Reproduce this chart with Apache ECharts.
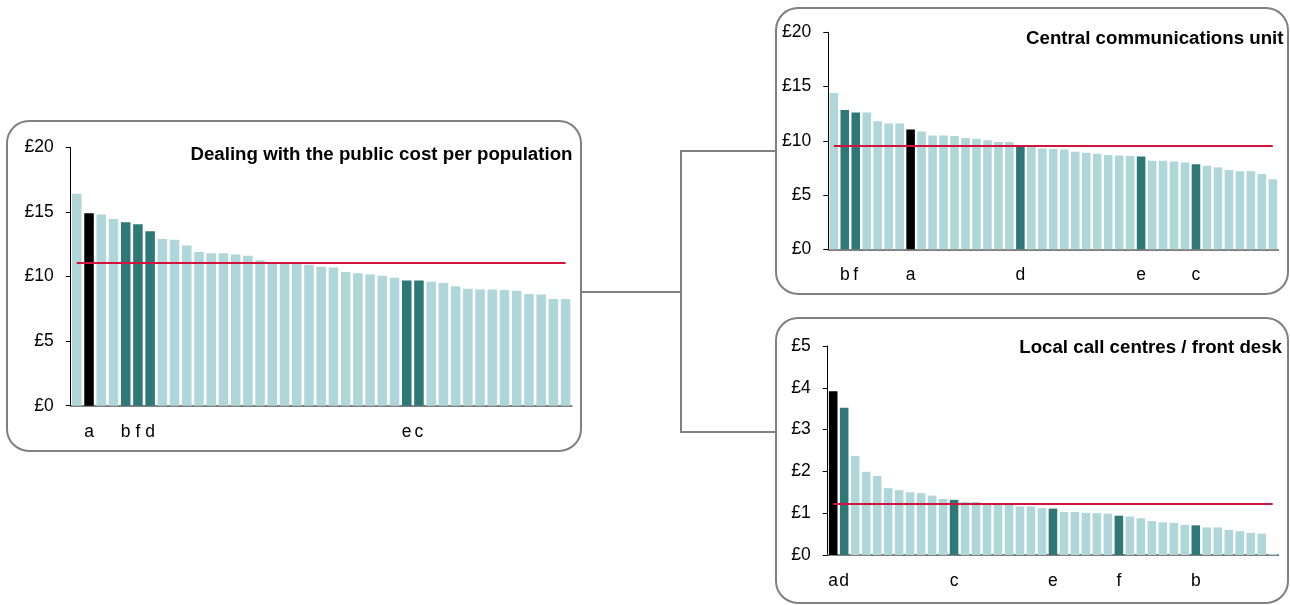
<!DOCTYPE html>
<html>
<head>
<meta charset="utf-8">
<script src="https://cdn.jsdelivr.net/npm/echarts@6/dist/echarts.min.js"></script>
<style>
  html, body { margin: 0; padding: 0; background: #ffffff; }
  #chart { width: 1290px; height: 605px; }
</style>
</head>
<body>
<div id="chart"></div>
<script>
// ---- Data ----
const leftTitle = 'Dealing with the public cost per population';
const leftValues = [16.4, 14.9, 14.8, 14.45, 14.2, 14.05, 13.5, 12.9, 12.85, 12.4,
  11.9, 11.8, 11.8, 11.7, 11.6, 11.25, 11.1, 11.1, 11.05, 10.9,
  10.75, 10.7, 10.35, 10.25, 10.15, 10.05, 9.9, 9.7, 9.7, 9.6,
  9.5, 9.25, 9.05, 9.0, 9.0, 8.95, 8.9, 8.65, 8.6, 8.25,
  8.25];
const leftLabels = ['', 'a', '', '', 'b', 'f', 'd', '', '', '',
  '', '', '', '', '', '', '', '', '', '',
  '', '', '', '', '', '', '', 'e', 'c', '',
  '', '', '', '', '', '', '', '', '', '',
  ''];
const leftAverage = 11.05;
const leftTicks = [0, 20, 5];

const topTitle = 'Central communications unit';
const topValues = [14.4, 12.85, 12.6, 12.6, 11.8, 11.6, 11.6, 11.05, 10.85, 10.5,
  10.5, 10.45, 10.25, 10.2, 10.05, 9.9, 9.9, 9.5, 9.45, 9.3,
  9.25, 9.2, 9.0, 8.9, 8.8, 8.7, 8.65, 8.6, 8.55, 8.15,
  8.15, 8.1, 8.0, 7.85, 7.7, 7.55, 7.3, 7.2, 7.2, 6.95,
  6.45];
const topLabels = ['', 'b', 'f', '', '', '', '', 'a', '', '',
  '', '', '', '', '', '', '', 'd', '', '',
  '', '', '', '', '', '', '', '', 'e', '',
  '', '', '', 'c', '', '', '', '', '', '',
  ''];
const topAverage = 9.52;
const topTicks = [0, 20, 5];

const bottomTitle = 'Local call centres / front desk';
const bottomValues = [3.92, 3.52, 2.37, 1.99, 1.89, 1.6, 1.55, 1.5, 1.48, 1.42,
  1.34, 1.32, 1.27, 1.27, 1.23, 1.21, 1.2, 1.16, 1.16, 1.12,
  1.11, 1.03, 1.03, 1.01, 1.0, 0.99, 0.94, 0.92, 0.88, 0.81,
  0.78, 0.77, 0.72, 0.71, 0.66, 0.66, 0.6, 0.57, 0.53, 0.51,
  0.03];
const bottomLabels = ['a', 'd', '', '', '', '', '', '', '', '',
  '', 'c', '', '', '', '', '', '', '', '',
  'e', '', '', '', '', '', 'f', '', '', '',
  '', '', '', 'b', '', '', '', '', '', '',
  ''];
const bottomAverage = 1.22;
const bottomTicks = [0, 5, 1];

// ---- Styles ----
const FONT = 'Liberation Sans, Arial, sans-serif';
const LIGHT = '#afd6d8';
const DARK = '#2f7878';
const BLACK = '#000000';
const RED = '#d2143c';
const GREY = '#808080';

const panels = [
  { title: leftTitle, values: leftValues, labels: leftLabels, avg: leftAverage, ticks: leftTicks,
    grid: { left: 70.7, top: 147.3, width: 501, height: 258.4 }, titlePos: { right: 1290 - 572.5, top: 145.5 } },
  { title: topTitle, values: topValues, labels: topLabels, avg: topAverage, ticks: topTicks,
    grid: { left: 828.3, top: 32.3, width: 450, height: 217 }, titlePos: { right: 1290 - 1283.5, top: 29 } },
  { title: bottomTitle, values: bottomValues, labels: bottomLabels, avg: bottomAverage, ticks: bottomTicks,
    grid: { left: 827.7, top: 346, width: 450.5, height: 209 }, titlePos: { right: 1290 - 1282, top: 338 } }
];

const option = {
  animation: false,
  backgroundColor: '#ffffff',
  textStyle: { fontFamily: FONT },
  title: panels.map(p => ({
    text: p.title, right: p.titlePos.right, top: p.titlePos.top, padding: 0,
    textStyle: { fontFamily: FONT, fontSize: 18.7, fontWeight: 'bold', color: '#000' }
  })),
  grid: panels.map(p => Object.assign({ containLabel: false }, p.grid)),
  xAxis: panels.map((p, i) => ({
    type: 'category', gridIndex: i,
    data: p.values.map((_, k) => String(k)),
    axisLine: { show: true, lineStyle: { color: GREY, width: 2 } },
    axisTick: { show: false },
    axisLabel: { interval: 0, margin: 17, fontSize: 17.5, color: '#000', fontFamily: FONT,
      formatter: (v, k) => p.labels[k] },
    splitLine: { show: false }
  })),
  yAxis: panels.map((p, i) => ({
    type: 'value', gridIndex: i, min: p.ticks[0], max: p.ticks[1], interval: p.ticks[2],
    axisLine: { show: true, lineStyle: { color: '#000', width: 1 } },
    axisTick: { show: true, length: 5, lineStyle: { color: '#000', width: 1 } },
    axisLabel: { margin: 17, fontSize: 17.5, color: '#000', fontFamily: FONT, formatter: '£{value}' },
    splitLine: { show: false }
  })),
  series: panels.map((p, i) => ({
    type: 'bar', xAxisIndex: i, yAxisIndex: i,
    data: p.values,
    barCategoryGap: '22%',
    itemStyle: {
      color: params => {
        const l = p.labels[params.dataIndex];
        if (l === 'a') return BLACK;
        if (l) return DARK;
        return LIGHT;
      }
    },
    emphasis: { disabled: true },
    markLine: {
      silent: true, symbol: 'none', animation: false,
      label: { show: false },
      lineStyle: { color: RED, width: 2, type: 'solid' },
      emphasis: { disabled: true },
      data: [[{ coord: [0, p.avg] }, { coord: [p.values.length - 1, p.avg] }]]
    }
  })),
  graphic: [
    { type: 'rect', shape: { x: 7, y: 121, width: 574, height: 330, r: 22 },
      style: { fill: 'none', stroke: GREY, lineWidth: 2 }, silent: true },
    { type: 'rect', shape: { x: 776, y: 8, width: 512, height: 286, r: 22 },
      style: { fill: 'none', stroke: GREY, lineWidth: 2 }, silent: true },
    { type: 'rect', shape: { x: 776, y: 318, width: 512, height: 285, r: 22 },
      style: { fill: 'none', stroke: GREY, lineWidth: 2 }, silent: true },
    { type: 'polyline', shape: { points: [[582, 292], [681, 292]] },
      style: { stroke: GREY, lineWidth: 2, fill: 'none' }, silent: true },
    { type: 'polyline', shape: { points: [[775, 151], [681, 151], [681, 432], [775, 432]] },
      style: { stroke: GREY, lineWidth: 2, fill: 'none' }, silent: true }
  ]
};

const chart = echarts.init(document.getElementById('chart'), null, { renderer: 'canvas' });
chart.setOption(option);
</script>
</body>
</html>
